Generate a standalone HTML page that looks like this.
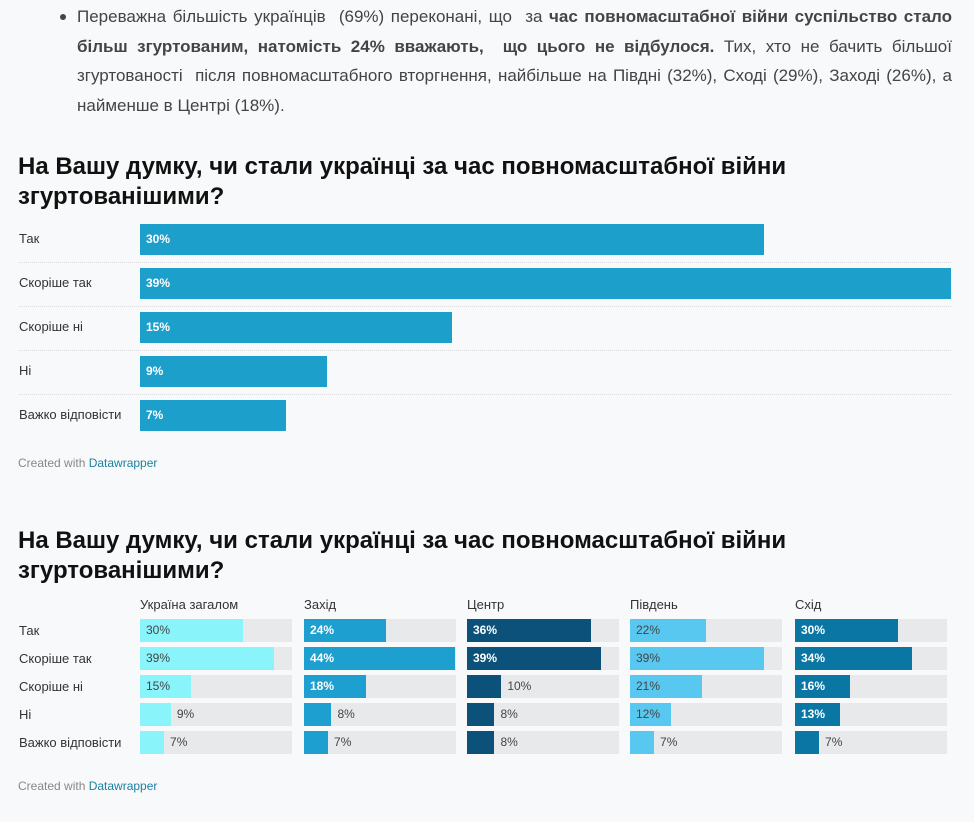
<!DOCTYPE html>
<html><head><meta charset="utf-8"><style>
body{margin:0;width:974px;height:822px;background:#f8f9fa;font-family:"Liberation Sans",Arial,sans-serif;position:relative;overflow:hidden;color:#333}
.abs{position:absolute}
.p{left:77px;top:2px;width:875px;font-size:17px;line-height:29.5px;color:#444;text-align:justify}
.bul{left:60px;top:14px;width:6px;height:6px;border-radius:50%;background:#444}
.t{left:18px;font-size:24px;font-weight:bold;line-height:30px;color:#111;width:900px}
.lab{font-size:13px;color:#333;left:19px}
.foot{left:18px;font-size:12px;color:#888}
.foot span{color:#1d81a2}
.sep{left:19px;width:932px;border-top:1px dotted #ddd;height:0}
.val{font-size:12px;line-height:23px}
</style></head><body>
<div class="abs bul"></div>
<div class="abs p">Переважна більшість українців &nbsp;(69%) переконані, що &nbsp;за <b>час повномасштабної війни суспільство стало більш згуртованим, натомість 24% вважають, &nbsp;що цього не відбулося.</b> Тих, хто не бачить більшої згуртованості &nbsp;після повномасштабного вторгнення, найбільше на Півдні (32%), Сході (29%), Заході (26%), а найменше в Центрі (18%).</div>

<div class="abs t" style="top:152px">На Вашу думку, чи стали українці за час повномасштабної війни згуртованішими?</div>
<div id="c1"></div>
<div class="abs foot" style="top:456px">Created with <span>Datawrapper</span></div>

<div class="abs t" style="top:526px">На Вашу думку, чи стали українці за час повномасштабної війни згуртованішими?</div>
<div id="c2"></div>
<div class="abs foot" style="top:779px">Created with <span>Datawrapper</span></div>

<script>
const categories = ["Так","Скоріше так","Скоріше ні","Ні","Важко відповісти"];
const overallValues = [30,39,15,9,7];
const regions = ["Україна загалом","Захід","Центр","Південь","Схід"];
const ukraineValues = [30,39,15,9,7];
const westValues = [24,44,18,8,7];
const centerValues = [36,39,10,8,8];
const southValues = [22,39,21,12,7];
const eastValues = [30,34,16,13,7];

function mk(parent,cls,css,txt){const d=document.createElement('div');d.className='abs '+(cls||'');d.style.cssText=css;if(txt!==undefined)d.textContent=txt;parent.appendChild(d);return d;}

// chart 1
const c1=document.getElementById('c1');
const x1=v=>v/39*811;
categories.forEach((c,i)=>{
  const y=224+i*44;
  const l=mk(c1,'lab','top:'+(y+7)+'px',c);
  
  
  const b=mk(c1,'','left:140px;top:'+y+'px;height:31px;width:'+x1(overallValues[i])+'px;background:#1d9fcb;color:#fff;font-weight:bold;font-size:12px;line-height:31px;padding-left:6px;box-sizing:border-box',overallValues[i]+'%');
  
  
  if(i<4){const s=mk(c1,'sep','top:'+(y+38)+'px');
  
  }
});

// chart 2
const c2=document.getElementById('c2');
const series=[ukraineValues,westValues,centerValues,southValues,eastValues];
const colors=["#8af4fb","#1d9fcf","#0b5179","#58c8f1","#0a76a3"];
const darkText=[true,false,false,true,false];
const colX=[140,304,467,630,795];
const W=152;
const x2=v=>v/44*151;
regions.forEach((r,j)=>{
  const h=mk(c2,'','left:'+colX[j]+'px;top:597px;font-size:13px;color:#333',r);
  
  
});
categories.forEach((c,i)=>{
  const y=619+i*28;
  const l=mk(c2,'lab','top:'+(y+4)+'px',c);
  
  
  series.forEach((s,j)=>{
    const bg=mk(c2,'','left:'+colX[j]+'px;top:'+y+'px;width:'+W+'px;height:23px;background:#e8e9ea');
    
    
    const w=x2(s[i]);
    const b=mk(c2,'','left:'+colX[j]+'px;top:'+y+'px;width:'+w+'px;height:23px;background:'+colors[j]);
    
    
    const inside=w>38;
    const v=mk(c2,'val','left:'+(colX[j]+(inside?6:w+6))+'px;top:'+y+'px;'+(inside&&!darkText[j]?'color:#fff;font-weight:bold':'color:#444'),s[i]+'%');
    
    
  });
});
</script>
</body></html>
